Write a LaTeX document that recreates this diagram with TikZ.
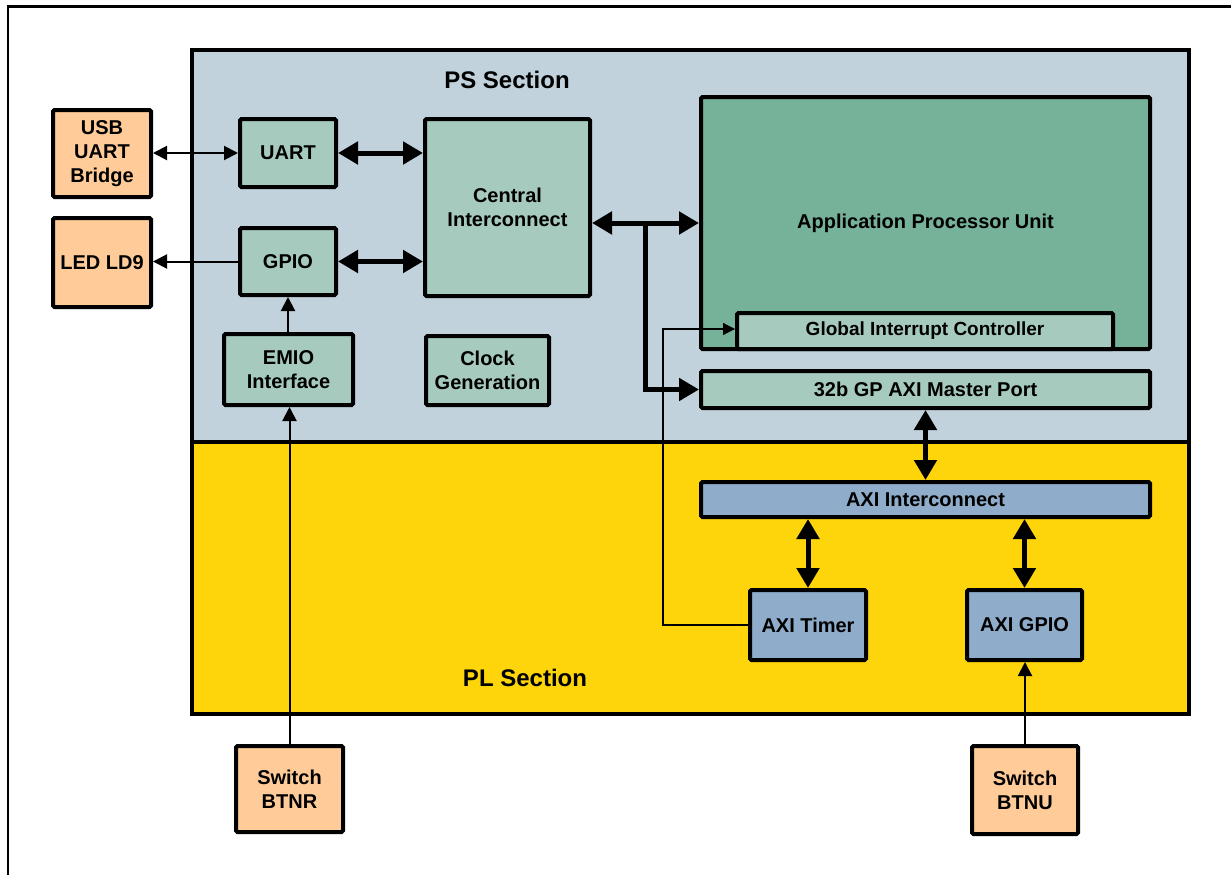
\documentclass[tikz,border=0pt]{standalone}
\usepackage{fontspec}
\setmainfont{Liberation Sans}
\usetikzlibrary{arrows.meta}
\definecolor{psbg}{HTML}{C1D2DC}
\definecolor{plbg}{HTML}{FED50A}
\definecolor{lgreen}{HTML}{A6CBBE}
\definecolor{dgreen}{HTML}{76B19A}
\definecolor{lblue}{HTML}{8FADCB}
\definecolor{peach}{HTML}{FFCC99}
\begin{document}
\begin{tikzpicture}[x=1pt,y=-1pt,
  box/.style={draw=black, line width=4pt, rounded corners=1.5pt, align=center,
    font=\fontsize{20}{24}\selectfont\bfseries, inner sep=0pt},
  gbox/.style={box, fill=lgreen},
  dbox/.style={box, fill=dgreen},
  bbox/.style={box, fill=lblue},
  pbox/.style={box, fill=peach},
  section/.style={draw=black, line width=4pt, inner sep=0pt},
  seclabel/.style={font=\fontsize{24}{28}\selectfont\bfseries, inner sep=0pt},
  bigarrow/.style={line width=5pt, {Triangle[length=20pt,width=22pt]}-{Triangle[length=20pt,width=22pt]}},
  bigto/.style={line width=5pt, -{Triangle[length=20pt,width=22pt]}},
  smallarrow/.style={line width=2pt, {Triangle[length=14pt,width=14pt]}-{Triangle[length=14pt,width=14pt]}},
  smallto/.style={line width=2pt, -{Triangle[length=14pt,width=14pt]}},
  hairto/.style={line width=1.2pt, -{Triangle[length=12pt,width=12pt]}}
]
\useasboundingbox (0,0) rectangle (1231,875);
\fill[white] (0,0) rectangle (1231,875);
\draw[line width=2.5pt] (8,875) -- (8,6.5) -- (1231,6.5);

% sections
\node[section, fill=psbg, minimum width=997pt, minimum height=392pt] (ps) at (690.5,246) {};
\node[section, fill=plbg, minimum width=997pt, minimum height=272pt] (pl) at (690.5,578) {};
\node[seclabel] (pslabel) at (507,80) {PS Section};
\node[seclabel] (pllabel) at (525,678) {PL Section};

% external
\node[pbox, minimum width=98pt, minimum height=87pt] (usb) at (102,153.5) {USB\\UART\\Bridge};
\node[pbox, minimum width=98pt, minimum height=89pt] (led) at (102,262.5) {LED LD9};
\node[pbox, minimum width=107pt, minimum height=86pt] (btnr) at (289.5,789) {Switch\\BTNR};
\node[pbox, minimum width=106pt, minimum height=88pt] (btnu) at (1025,790) {Switch\\BTNU};

% PS blocks
\node[gbox, minimum width=96pt, minimum height=68pt] (uart) at (288,153) {UART};
\node[gbox, minimum width=96pt, minimum height=67pt] (gpio) at (288,261.5) {GPIO};
\node[gbox, minimum width=165pt, minimum height=177pt] (ci) at (507.5,207.5) {Central\\Interconnect};
\node[gbox, minimum width=123pt, minimum height=69pt] (clk) at (487.5,370.5) {Clock\\Generation};
\node[gbox, minimum width=129pt, minimum height=71pt] (emio) at (288.5,369.5) {EMIO\\Interface};
\node[dbox, minimum width=449pt, minimum height=252pt] (apu) at (925.5,223) {Application Processor Unit};
\node[gbox, minimum width=376pt, minimum height=36pt, font=\fontsize{19}{22}\selectfont\bfseries] (gic) at (925,331) {Global Interrupt Controller};
\node[gbox, minimum width=449pt, minimum height=37pt] (axim) at (925.5,389.5) {32b GP AXI Master Port};

% PL blocks
\node[bbox, minimum width=449pt, minimum height=35pt] (axii) at (925.5,499.5) {AXI Interconnect};
\node[bbox, minimum width=116pt, minimum height=70pt] (timer) at (808,625) {AXI Timer};
\node[bbox, minimum width=115pt, minimum height=70pt] (agpio) at (1024.5,625) {AXI GPIO};

% connectors
\draw[smallarrow] (usb.east |- uart.west) -- (uart.west);
\draw[smallto] (gpio.west) -- (gpio.west -| led.east);
\draw[bigarrow] (uart.east) -- (uart.east -| ci.west);
\draw[bigarrow] (gpio.east) -- (gpio.east -| ci.west);
\draw[smallto] (emio.north -| gpio.south) -- (gpio.south);
\draw[smallto] (btnr.north) -- (btnr.north |- emio.south);
\draw[bigarrow] (ci.east |- apu.west) -- (apu.west);
\coordinate (br) at (645,223);
\draw[bigto, line join=miter] (br) -- (br |- axim.west) -- (axim.west);
\coordinate (irq) at (663,329);
\draw[hairto] (timer.west) -| (irq) -- (irq -| gic.west);
\draw[bigarrow] (axim.south) -- (axii.north);
\draw[bigarrow] (timer.north |- axii.south) -- (timer.north);
\draw[bigarrow] (agpio.north |- axii.south) -- (agpio.north);
\draw[smallto] (btnu.north) -- (btnu.north |- agpio.south);
\end{tikzpicture}
\end{document}
